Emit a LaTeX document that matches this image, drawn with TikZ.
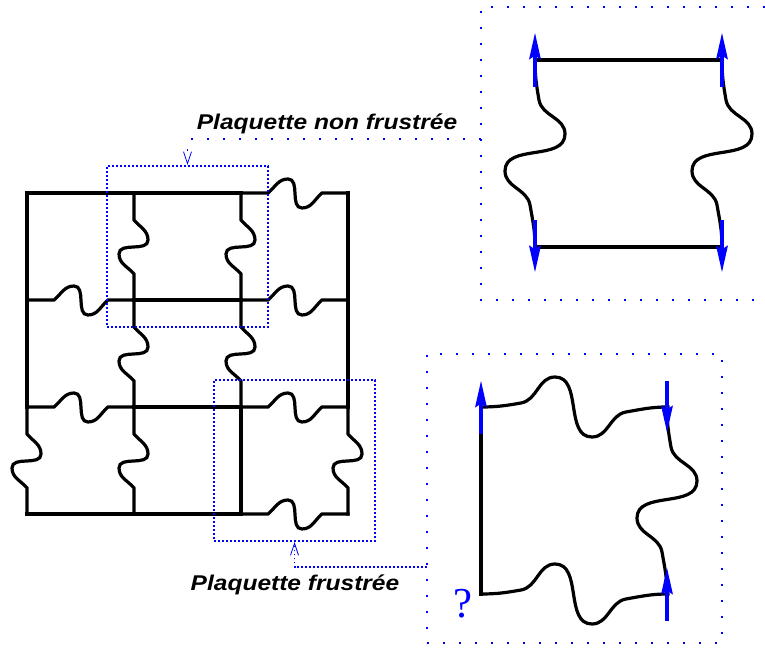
\documentclass[tikz,border=0pt]{standalone}
\usepackage{fontspec}
\newfontfamily\fontlegende[FakeStretch=1.15]{Liberation Sans}
\newfontfamily\fontdoute{Liberation Serif}
\usetikzlibrary{arrows.meta,fit}
\tikzstyle{lien}=[draw,line width=2.4pt,line cap=rect]
\tikzstyle{spin}=[draw=blue,line width=3pt,
                  -{Stealth[length=20pt,width=9pt,inset=3pt,line width=0pt]}]
\tikzstyle{petitcadre}=[draw=blue,line width=1.5pt,dash pattern=on 1.5pt off 1.5pt]
\tikzstyle{grandcadre}=[draw=blue,line width=1.4pt,dash pattern=on 1.4pt off 10.6pt]
\tikzstyle{renvoi}=[draw=blue,line width=1.4pt,dash pattern=on 1.4pt off 10.6pt,
                  -{Straight Barb[length=9pt,width=6pt,line width=0.6pt]}]
\tikzstyle{legende}=[font=\fontlegende\bfseries\itshape\fontsize{16}{18}\selectfont,
                  inner sep=0pt]
\tikzset{
  pics/onde/.style={code={
    \draw[lien] (0,0) -- (27,0) to[out=40,in=180] (47,-14)
      to[out=0,in=180] (61,15) to[out=0,in=220] (81,0) -- (107,0);}},
  pics/grandeonde/.style={code={
    \draw[lien] (0,0) to[out=0,in=190] (40,-4) to[out=10,in=180] (74,-30)
      to[out=0,in=180] (111,30) to[out=0,in=190] (145,5)
      to[out=10,in=180] (187,0);}}
}

\begin{document}
\begin{tikzpicture}[x=0.75pt,y=-0.75pt]
      \useasboundingbox (0,0) rectangle (765,648);
      % Place the sites of the lattice
      \foreach \i in {0,...,3}
        \foreach \j in {0,...,3}
          \coordinate (v\i\j) at (27+107*\i,193+107*\j);
      \foreach \source/\dest in {v00/v10, v10/v20, v11/v21, v12/v22, v03/v13, v13/v23,
                                 v00/v01, v01/v02, v22/v23, v30/v31, v31/v32}
        \draw[lien] (\source) -- (\dest);
      %
      % Frustrated bonds
      \foreach \place in {v20, v01, v21, v02, v22, v23}
        \pic at (\place) {onde};
      \foreach \place in {v02, v10, v11, v12, v20, v21, v32}
        \pic[rotate=-90] at (\place) {onde};
      \node[petitcadre, fit=(v10)(v21), inner sep=20.25pt] (boxnf) {};
      \node[petitcadre, fit=(v22)(v33), inner sep=20.25pt] (boxf) {};
      %
      % Plaquette non frustree, enlarged
      \coordinate (a1) at (535,60);
      \coordinate (b1) at (722,60);
      \coordinate (c1) at (535,247);
      \coordinate (d1) at (722,247);
      \draw[lien] (a1) -- (b1);
      \draw[lien] (c1) -- (d1);
      \foreach \place in {a1, b1}
        \pic[rotate=-90] at (\place) {grandeonde};
      \foreach \place in {a1, b1}
        \draw[spin] ([shift={(0,27)}]\place) -- ([shift={(0,-27)}]\place);
      \foreach \place in {c1, d1}
        \draw[spin] ([shift={(0,-27)}]\place) -- ([shift={(0,25)}]\place);
      \draw[grandcadre] (765,7) -- (481,7) -- (481,300) -- (765,300);
      \coordinate (vnf) at (481,139);
      %
      % Plaquette frustree, enlarged
      \coordinate (p) at (481,407);
      \coordinate (q) at (667,407);
      \coordinate (r) at (481,594);
      \coordinate (s) at (667,594);
      \draw[lien] (p) -- (r);
      \pic at (p) {grandeonde};
      \pic at (r) {grandeonde};
      \pic[rotate=-90] at (q) {grandeonde};
      \draw[spin] ([shift={(0,27)}]p) -- ([shift={(0,-26)}]p);
      \draw[spin] ([shift={(0,-26)}]q) -- ([shift={(0,25)}]q);
      \draw[spin] ([shift={(0,27)}]s) -- ([shift={(0,-26)}]s);
      \node[text=blue, font=\fontdoute\fontsize{32}{32}\selectfont, anchor=base] (doute) at (463,618) {?};
      \node[grandcadre, minimum width=221.25pt, minimum height=216.75pt,
            inner sep=0pt] (vuef) at (574.5,498.5) {};
      \coordinate (vf) at (427,567);
      %
      % Labels and pointers
      \node[legende, anchor=base] (lblnf) at (327,130) {Plaquette non frustrée};
      \node[legende, anchor=base] (lblf) at (295,591) {Plaquette frustrée};
      \draw[renvoi] (vnf) -| (boxnf.north);
      \draw[renvoi, line width=1.2pt, dash pattern=on 1.2pt off 1.8pt] (vf) -| (boxf.south);
\end{tikzpicture}
\end{document}
